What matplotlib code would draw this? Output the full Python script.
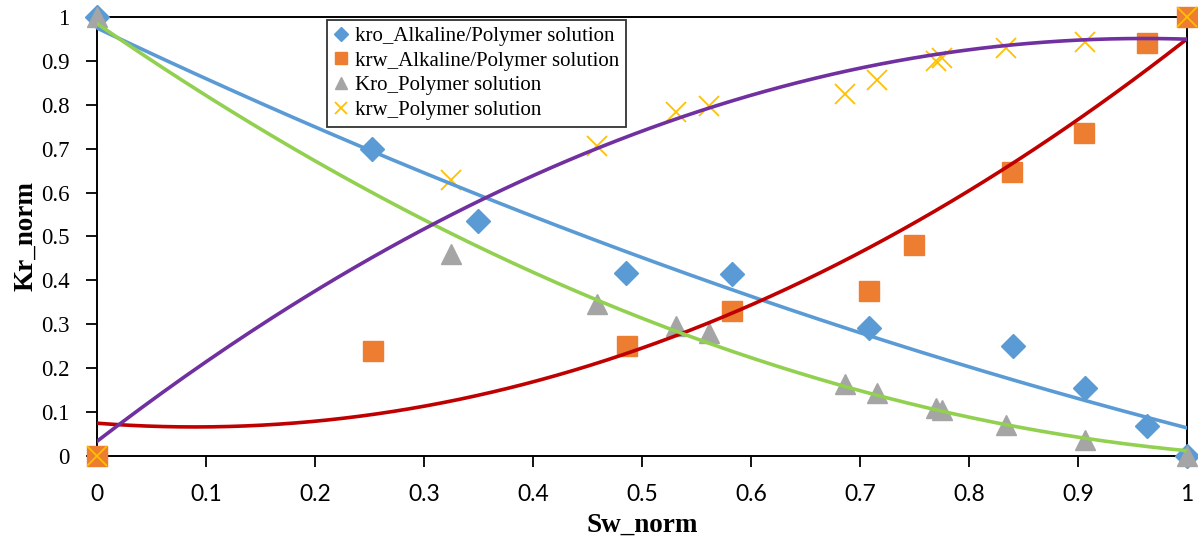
import numpy as np
import matplotlib.pyplot as plt

plt.rcParams['font.family'] = ['Liberation Serif', 'DejaVu Serif']

# ---------------------------------------------------------
# Data
# ---------------------------------------------------------
sw_alk = [0.0, 0.252, 0.349, 0.485, 0.582, 0.708, 0.840, 0.906, 0.963, 1.0]
kro_alk = [1.0, 0.700, 0.535, 0.417, 0.415, 0.292, 0.251, 0.155, 0.068, 0.0]

sw_alk_w = [0.0, 0.253, 0.486, 0.582, 0.708, 0.749, 0.839, 0.905, 0.963, 1.0]
krw_alk = [0.0, 0.239, 0.251, 0.330, 0.376, 0.481, 0.647, 0.736, 0.941, 1.0]

sw_poly = [0.0, 0.325, 0.459, 0.531, 0.561, 0.686, 0.715, 0.770, 0.775, 0.834, 0.906, 1.0]
kro_poly = [1.0, 0.460, 0.346, 0.296, 0.280, 0.164, 0.144, 0.109, 0.105, 0.071, 0.036, 0.0]
krw_poly = [0.0, 0.629, 0.706, 0.784, 0.797, 0.825, 0.856, 0.899, 0.906, 0.929, 0.943, 1.0]

ticks = [0, 0.1, 0.2, 0.3, 0.4, 0.5, 0.6, 0.7, 0.8, 0.9, 1]
tick_labels = ["0", "0.1", "0.2", "0.3", "0.4", "0.5", "0.6", "0.7", "0.8", "0.9", "1"]

# ---------------------------------------------------------
# Plot
# ---------------------------------------------------------
fig = plt.figure(figsize=(11.98, 5.4), dpi=100)
ax = fig.add_axes([0.081, 0.156, 0.910, 0.8125])

ax.plot(sw_alk, kro_alk, 'D', color='#5B9BD5', ms=12, mec='#5B9BD5',
        label='kro_Alkaline/Polymer solution', clip_on=False, zorder=3)
ax.plot(sw_alk_w, krw_alk, 's', color='#ED7D31', ms=14, mec='#ED7D31',
        label='krw_Alkaline/Polymer solution', clip_on=False, zorder=3)
ax.plot(sw_poly, kro_poly, '^', color='#A5A5A5', ms=15, mec='#A5A5A5',
        label='Kro_Polymer solution', clip_on=False, zorder=3)
ax.plot(sw_poly, krw_poly, 'x', color='#FFC000', ms=14, mew=1.3,
        label='krw_Polymer solution', clip_on=False, zorder=3)

# polynomial trendlines (order 2)
xs = np.linspace(0, 1, 200)
trend = [(sw_alk, kro_alk, '#5B9BD5'),
         (sw_alk_w, krw_alk, '#C00000'),
         (sw_poly, kro_poly, '#92D050'),
         (sw_poly, krw_poly, '#7030A0')]
for x, y, c in trend:
    p = np.polyfit(x, y, 2)
    ax.plot(xs, np.polyval(p, xs), color=c, lw=2.6, zorder=4)

ax.set_xlim(0, 1)
ax.set_ylim(0, 1)
ax.set_xticks(ticks)
ax.set_xticklabels(tick_labels, family=['Lato', 'DejaVu Sans'])
ax.set_yticks(ticks)
ax.set_yticklabels(tick_labels)
ax.tick_params(direction='out', length=8, width=1.3, labelsize=16.5)
ax.tick_params(axis='x', pad=12)
ax.tick_params(axis='y', pad=12)
for s in ax.spines.values():
    s.set_linewidth(1.4)

ax.set_xlabel('Sw_norm', fontsize=19.5, fontweight='bold', labelpad=6)
ax.set_ylabel('Kr_norm', fontsize=19.5, fontweight='bold', labelpad=2)

leg = ax.legend(loc='upper left', bbox_to_anchor=(0.211, 0.993), fontsize=15,
                frameon=True, fancybox=False, edgecolor='black',
                handlelength=0.7, handletextpad=0.35, borderpad=0.3,
                labelspacing=0.25, markerscale=0.6, borderaxespad=0)
leg.get_frame().set_linewidth(1.3)

plt.savefig('out.png', dpi=100)
